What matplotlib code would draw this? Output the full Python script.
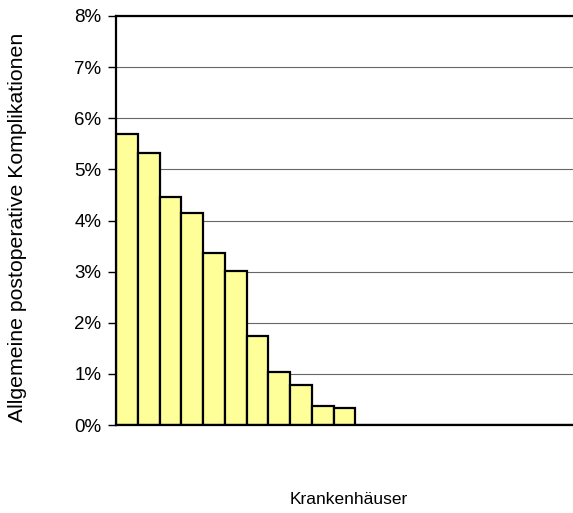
import matplotlib
matplotlib.use("Agg")
import matplotlib.pyplot as plt
from matplotlib.ticker import FuncFormatter

plt.rcParams['font.family'] = ['Liberation Sans', 'DejaVu Sans']

# Data (percent)
hospitals = list(range(1, 22))
rates = [5.69, 5.33, 4.45, 4.15, 3.37, 3.01, 1.75, 1.04, 0.79, 0.37, 0.34,
         0, 0, 0, 0, 0, 0, 0, 0, 0, 0]
yticks = [0, 1, 2, 3, 4, 5, 6, 7, 8]

W, H = 573, 513
L, R, T, B = 116, 573, 16, 425
fig = plt.figure(figsize=(W/100, H/100), dpi=100)
ax = fig.add_axes([L/W, 1-B/H, (R-L)/W, (B-T)/H])

x = [i - 0.5 for i in hospitals]
ax.bar(x, rates, width=1.0, color='#FFFF99', edgecolor='black', linewidth=1.6, zorder=3)

ax.set_xlim(0, len(hospitals))
ax.set_ylim(0, 8)
ax.set_yticks(yticks)
ax.yaxis.set_major_formatter(FuncFormatter(lambda v, p: f"{int(v)}%"))
ax.set_xticks([])
ax.grid(axis='y', color='#666666', linewidth=0.8, zorder=0)
ax.spines['right'].set_visible(False)
for s in ('left', 'bottom', 'top'):
    ax.spines[s].set_linewidth(1.6)
    ax.spines[s].set_zorder(4)
ax.tick_params(axis='y', direction='out', length=6, width=1, labelsize=13.5, pad=4.5)

ax.set_ylabel('Allgemeine postoperative Komplikationen', fontsize=15.3, va='center')
ax.yaxis.set_label_coords((18-L)/(R-L), (B-227.5)/(B-T))
ax.set_xlabel('Krankenhäuser', fontsize=12.5, va='center')
ax.xaxis.set_label_coords((349-L)/(R-L), -(500-B)/(B-T))

fig.savefig('out.png', dpi=100)
